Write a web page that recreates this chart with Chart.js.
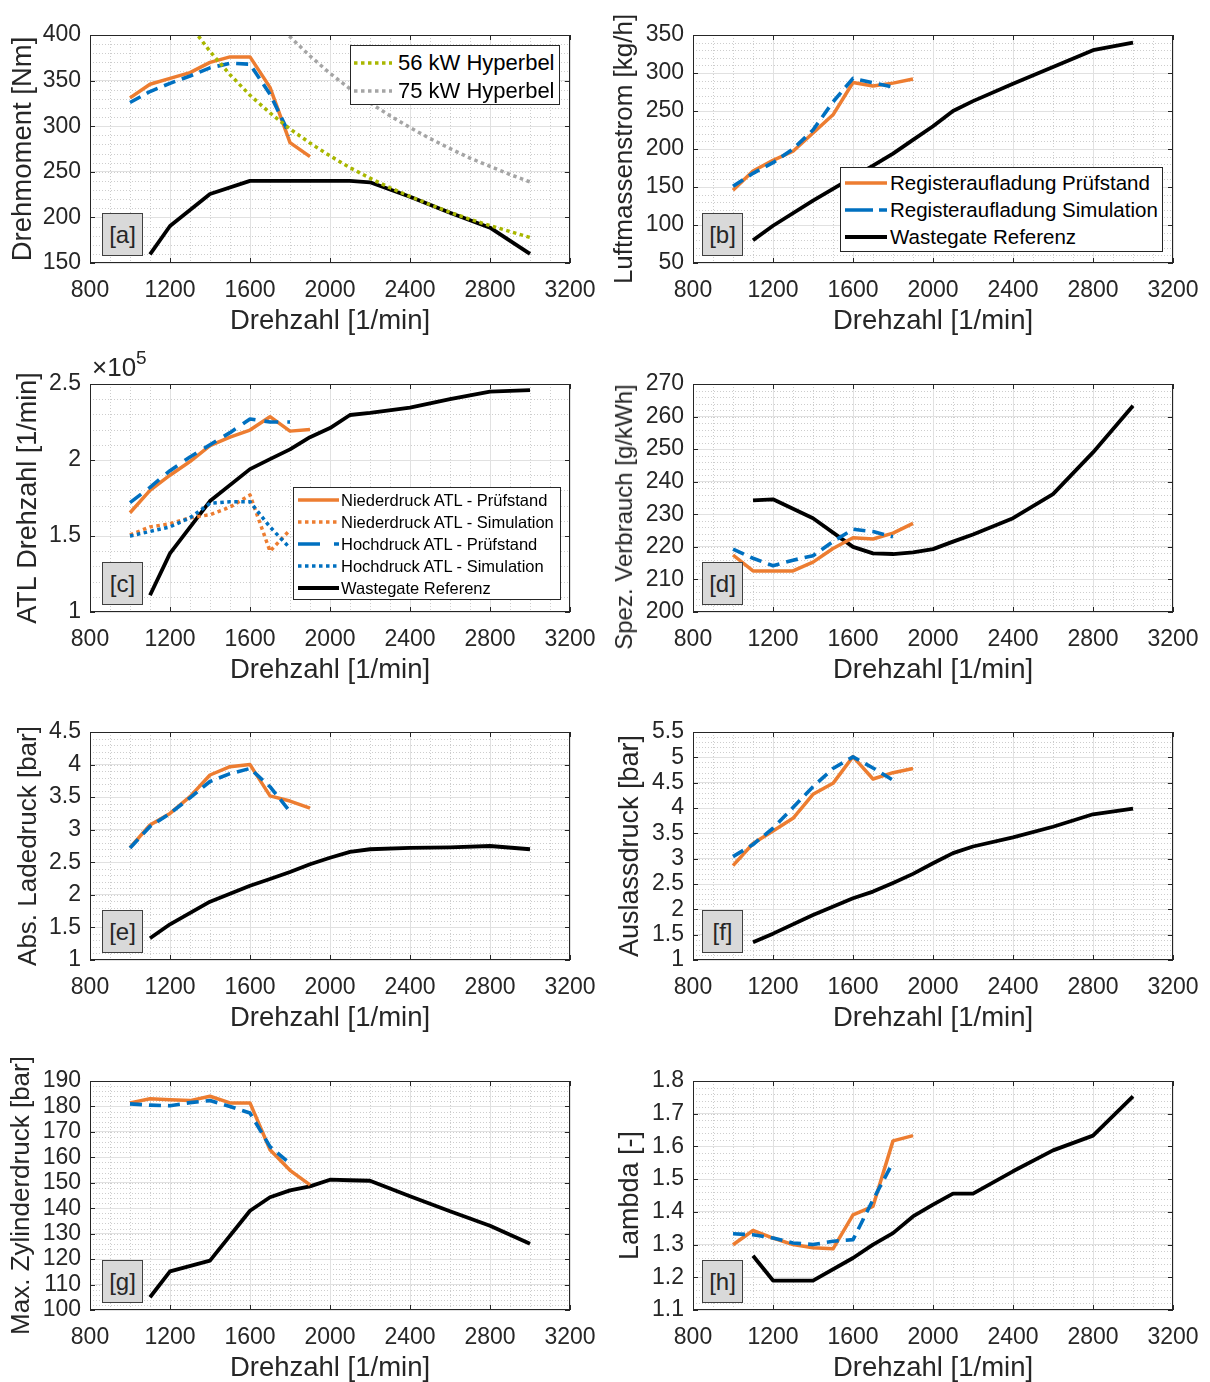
<!DOCTYPE html>
<html lang="de">
<head>
<meta charset="utf-8">
<title>Registeraufladung vs. Wastegate</title>
<script src="https://cdn.jsdelivr.net/npm/chart.js@4.4.1/dist/chart.umd.min.js"></script>
<style>
  html, body { margin: 0; padding: 0; background: #fff; width: 1210px; height: 1382px; overflow: hidden; font-family: "Liberation Sans", Arial, sans-serif; }
  canvas { position: absolute; }
  .legend { position: absolute; background: #fff; border: 1px solid #262626; box-sizing: border-box; color: #000; }
  .legend .row { position: absolute; white-space: nowrap; height: 30px; line-height: 30px; }
  .legend svg { position: absolute; }
  .tag { position: absolute; width: 41px; height: 43px; background: #d9d9d9; border: 1px solid #404040; box-sizing: border-box; font-size: 24px; text-align: center; line-height: 41px; color: #262626; }
  .expo { position: absolute; left: 92px; top: 349px; font-size: 26px; color: #262626; }
  .expo sup { font-size: 19px; position: relative; top: -2px; }
  .ytitle { position: absolute; white-space: nowrap; color: #262626; transform: translate(-50%, -50%) rotate(-90deg); line-height: 1; }
</style>
</head>
<body>
<script>
// Drehzahlen [1/min]
const drehzahlPruef = [1000, 1100, 1200, 1300, 1400, 1500, 1600, 1700, 1800, 1900];
const drehzahlSim = [1000, 1100, 1200, 1300, 1400, 1500, 1600, 1700, 1800];
const drehzahlRef = [1100, 1200, 1400, 1600, 1700, 1800, 1900, 2000, 2100, 2200, 2400, 2600, 2800, 3000];
const drehzahlHyp56 = [1300, 1400, 1500, 1600, 1700, 1800, 1900, 2000, 2100, 2200, 2300, 2400, 2500, 2600, 2700, 2800, 2900, 3000];
const drehzahlHyp75 = [1700, 1800, 1900, 2000, 2100, 2200, 2300, 2400, 2500, 2600, 2700, 2800, 2900, 3000];
const xTicks = [800, 1200, 1600, 2000, 2400, 2800, 3200];

// [a] Drehmoment [Nm]
const momentPruef = [331, 346, 352.5, 358.7, 370, 376, 376, 342.6, 282, 266.6];
const momentSim = [326, 338, 347, 355, 364, 369, 368, 335, 290];
const momentRef = [159.5, 190.6, 225.7, 240, 240, 240, 240, 240, 240, 238.5, 222.7, 205, 188.7, 160];
const hyperbel56 = [411, 382, 356.5, 334, 314.5, 297, 281.5, 267.5, 254.5, 243, 232.5, 223, 214, 205.5, 198, 191, 184.5, 178];
const hyperbel75 = [421, 398, 377, 358, 341, 325.5, 311.5, 298.5, 286.5, 275.5, 265, 256, 247, 239];

// [b] Luftmassenstrom [kg/h]
const luftPruef = [145.6, 171, 185, 197, 221, 245, 287.5, 283, 286.7, 292];
const luftSim = [151, 168, 182, 200, 225, 262, 293, 287, 281.5];
const luftRef = [80, 99, 132, 163, 178, 194, 212, 230, 250, 263, 286, 308, 330, 340];

// [c] ATL Drehzahl [1/min]
const ndPruef = [165300, 180000, 190000, 199000, 209400, 215000, 219700, 228500, 219000, 220000];
const ndSim = [150700, 156000, 158000, 162000, 164000, 169000, 177000, 140000, 154000];
const hdPruef = [172000, 182000, 193000, 202000, 210000, 218000, 227000, 225000, 225000];
const hdSim = [150000, 153000, 156000, 162000, 171500, 172500, 172500, 156000, 142000];
const atlRef = [111000, 138600, 173000, 194000, 200600, 207000, 215000, 221000, 229600, 231000, 234400, 240000, 245000, 246000];

// [d] Spez. Verbrauch [g/kWh]
const bsfcPruef = [217.5, 212.6, 212.6, 212.6, 215.3, 219.5, 222.8, 222.4, 224.2, 227.2];
const bsfcSim = [219.3, 216.5, 214.2, 215.9, 217.3, 221.6, 225.4, 224.7, 223.1];
const bsfcRef = [234.3, 234.6, 228.8, 220.0, 218.0, 217.8, 218.3, 219.3, 221.6, 223.8, 228.8, 236.2, 249, 263.3];

// [e] Abs. Ladedruck [bar]
const ladePruef = [2.724, 3.072, 3.25, 3.507, 3.84, 3.967, 4.0, 3.52, 3.44, 3.33];
const ladeSim = [2.72, 3.05, 3.25, 3.49, 3.74, 3.86, 3.94, 3.66, 3.28];
const ladeRef = [1.333, 1.548, 1.895, 2.14, 2.243, 2.35, 2.47, 2.57, 2.66, 2.70, 2.72, 2.73, 2.75, 2.70];

// [f] Auslassdruck [bar]
const auslPruef = [2.862, 3.30, 3.546, 3.797, 4.27, 4.487, 5.013, 4.573, 4.697, 4.78];
const auslSim = [3.04, 3.28, 3.60, 4.01, 4.42, 4.78, 5.01, 4.79, 4.55];
const auslRef = [1.35, 1.52, 1.89, 2.22, 2.35, 2.52, 2.70, 2.91, 3.11, 3.24, 3.42, 3.63, 3.876, 3.99];

// [g] Max. Zylinderdruck [bar]
const zylPruef = [181.4, 183.0, 182.6, 182.3, 184.0, 181.4, 181.4, 163.0, 154.9, 149.2];
const zylSim = [181, 180.5, 180.3, 181.5, 182.3, 180, 177.4, 164.2, 157.6];
const zylRef = [105, 115.2, 119.4, 139.0, 144.3, 147.0, 148.6, 151.2, 151.0, 150.8, 144.7, 138.8, 133.1, 126];

// [h] Lambda [-]
const lambdaPruef = [1.2995, 1.343, 1.32, 1.30, 1.29, 1.287, 1.391, 1.417, 1.617, 1.633];
const lambdaSim = [1.333, 1.33, 1.32, 1.305, 1.30, 1.31, 1.315, 1.437, 1.551];
const lambdaRef = [1.266, 1.19, 1.19, 1.259, 1.30, 1.335, 1.386, 1.422, 1.456, 1.456, 1.524, 1.588, 1.633, 1.753];

// Farben
const ORANGE = '#ED7D31';
const BLUE = '#0070C0';
const BLACK = '#000000';
const LIME = '#A9B700';
const GRAY = '#A5A5A5';
const TEXT = '#262626';
const FONT = '"Liberation Sans", Arial, sans-serif';
const XTITLE_SIZE = 27.5;

function pts(xs, ys) {
    return ys.map((v, i) => ({x: xs[i], y: v}));
}

function line(label, xs, ys, color, width, dash, order) {
    return {
        label: label,
        data: pts(xs, ys),
        borderColor: color,
        backgroundColor: color,
        borderWidth: width,
        borderDash: dash || [],
        borderCapStyle: 'butt',
        borderJoinStyle: 'round',
        pointRadius: 0,
        tension: 0,
        fill: false,
        order: order
    };
}

// Standard-Satz: Prüfstand (orange), Simulation (blau gestrichelt), Referenz (schwarz)
function standardSets(pruef, sim, ref) {
    return [
        line('Registeraufladung Simulation', drehzahlSim, sim, BLUE, 3.6, [12, 7], 1),
        line('Registeraufladung Prüfstand', drehzahlPruef, pruef, ORANGE, 3.5, null, 2),
        line('Wastegate Referenz', drehzahlRef, ref, BLACK, 3.8, null, 3)
    ];
}

// Gitter im MATLAB-Stil: gepunktetes Nebengitter, Rahmen, Ticks nach innen
const matlabAxes = {
    id: 'matlabAxes',
    beforeDraw(chart, args, opts) {
        const {ctx, chartArea: a, scales: {x, y}} = chart;
        ctx.save();
        ctx.strokeStyle = '#cdcdcd';
        ctx.lineWidth = 1;
        ctx.setLineDash([1, 2]);
        ctx.beginPath();
        for (let v = x.min; v <= x.max + 1e-9; v += opts.xMinor) {
            const px = Math.round(x.getPixelForValue(v)) + 0.5;
            ctx.moveTo(px, a.top);
            ctx.lineTo(px, a.bottom);
        }
        const n = Math.round((y.max - y.min) / opts.yMinor);
        for (let i = 0; i <= n; i++) {
            const py = Math.round(y.getPixelForValue(y.min + i * opts.yMinor)) + 0.5;
            ctx.moveTo(a.left, py);
            ctx.lineTo(a.right, py);
        }
        ctx.stroke();
        ctx.restore();
    },
    afterDraw(chart) {
        const {ctx, chartArea: a, scales: {x, y}} = chart;
        ctx.save();
        ctx.strokeStyle = TEXT;
        ctx.lineWidth = 1;
        ctx.setLineDash([]);
        ctx.strokeRect(a.left + 0.5, a.top + 0.5, a.right - a.left - 1, a.bottom - a.top - 1);
        const tl = 5;
        ctx.beginPath();
        x.ticks.forEach(t => {
            const px = Math.round(x.getPixelForValue(t.value)) + 0.5;
            ctx.moveTo(px, a.bottom); ctx.lineTo(px, a.bottom - tl);
            ctx.moveTo(px, a.top); ctx.lineTo(px, a.top + tl);
        });
        y.ticks.forEach(t => {
            const py = Math.round(y.getPixelForValue(t.value)) + 0.5;
            ctx.moveTo(a.left, py); ctx.lineTo(a.left + tl, py);
            ctx.moveTo(a.right, py); ctx.lineTo(a.right - tl, py);
        });
        ctx.stroke();
        ctx.restore();
    }
};

const colCfg = [
    {left: 0, width: 600, padRight: 30, tagLeft: 102},
    {left: 603, width: 607, padRight: 37, tagLeft: 702}
];
const plotTops = [35, 384, 732, 1081];
const plotBottoms = [263, 612, 960, 1310];
const PAD_TOP = 30;
const X_AXIS_H = 72;
const Y_AXIS_W = 90;

const fmt = v => String(+v.toFixed(2));

const panels = [
    {tag: 'a', col: 0, row: 0, yMin: 150, yMax: 400, yStep: 50, yMinor: 10,
     yTitle: 'Drehmoment [Nm]', titleCenter: 23, titleSize: 27.5,
     datasets: [
         line('56 kW Hyperbel', drehzahlHyp56, hyperbel56, LIME, 3.5, [3.5, 3.5], 0),
         line('75 kW Hyperbel', drehzahlHyp75, hyperbel75, GRAY, 3.5, [3.5, 3.5], 0)
     ].concat(standardSets(momentPruef, momentSim, momentRef))},
    {tag: 'b', col: 1, row: 0, yMin: 50, yMax: 350, yStep: 50, yMinor: 10,
     yTitle: 'Luftmassenstrom [kg/h]', titleCenter: 22, titleSize: 26,
     datasets: standardSets(luftPruef, luftSim, luftRef)},
    {tag: 'c', col: 0, row: 1, yMin: 100000, yMax: 250000, yStep: 50000, yMinor: 10000,
     yTitle: 'ATL Drehzahl [1/min]', titleCenter: 29, titleSize: 27, yFormat: v => fmt(v / 1e5),
     datasets: [
         line('Niederdruck ATL - Simulation', drehzahlSim, ndSim, ORANGE, 3.5, [3.5, 3.5], 2),
         line('Hochdruck ATL - Simulation', drehzahlSim, hdSim, BLUE, 3.5, [3.5, 3.5], 1),
         line('Hochdruck ATL - Prüfstand', drehzahlSim, hdPruef, BLUE, 3.6, [14, 9], 3),
         line('Niederdruck ATL - Prüfstand', drehzahlPruef, ndPruef, ORANGE, 3.5, null, 4),
         line('Wastegate Referenz', drehzahlRef, atlRef, BLACK, 3.8, null, 5)
     ]},
    {tag: 'd', col: 1, row: 1, yMin: 200, yMax: 270, yStep: 10, yMinor: 2,
     yTitle: 'Spez. Verbrauch [g/kWh]', htmlTitle: {x: 624, y: 517, size: 24},
     datasets: standardSets(bsfcPruef, bsfcSim, bsfcRef)},
    {tag: 'e', col: 0, row: 2, yMin: 1, yMax: 4.5, yStep: 0.5, yMinor: 0.1,
     yTitle: 'Abs. Ladedruck [bar]', titleCenter: 29, titleSize: 26,
     datasets: standardSets(ladePruef, ladeSim, ladeRef)},
    {tag: 'f', col: 1, row: 2, yMin: 1, yMax: 5.5, yStep: 0.5, yMinor: 0.1,
     yTitle: 'Auslassdruck [bar]', titleCenter: 28, titleSize: 27,
     datasets: standardSets(auslPruef, auslSim, auslRef)},
    {tag: 'g', col: 0, row: 3, yMin: 100, yMax: 190, yStep: 10, yMinor: 2,
     yTitle: 'Max. Zylinderdruck [bar]', titleCenter: 22, titleSize: 26,
     datasets: standardSets(zylPruef, zylSim, zylRef)},
    {tag: 'h', col: 1, row: 3, yMin: 1.1, yMax: 1.8, yStep: 0.1, yMinor: 0.02,
     yTitle: 'Lambda [-]', titleCenter: 28, titleSize: 27,
     datasets: standardSets(lambdaPruef, lambdaSim, lambdaRef)}
];

function buildPanel(p) {
    const c = colCfg[p.col];
    const top = plotTops[p.row] - PAD_TOP;
    const height = plotBottoms[p.row] - plotTops[p.row] + PAD_TOP + X_AXIS_H;
    const canvas = document.createElement('canvas');
    canvas.width = c.width;
    canvas.height = height;
    canvas.style.left = c.left + 'px';
    canvas.style.top = top + 'px';
    canvas.style.width = c.width + 'px';
    canvas.style.height = height + 'px';
    document.body.appendChild(canvas);

    const yTitle = p.htmlTitle ? {display: false} : {
        display: true, text: p.yTitle, color: TEXT,
        font: {family: FONT, size: p.titleSize, lineHeight: 1},
        padding: {top: p.titleCenter - p.titleSize / 2, bottom: 0}
    };

    new Chart(canvas.getContext('2d'), {
        type: 'line',
        data: {datasets: p.datasets},
        plugins: [matlabAxes],
        options: {
            responsive: false,
            animation: false,
            devicePixelRatio: 1,
            layout: {padding: {top: PAD_TOP, right: c.padRight, left: 0, bottom: 0}},
            plugins: {
                legend: {display: false},
                tooltip: {enabled: false},
                matlabAxes: {xMinor: 100, yMinor: p.yMinor}
            },
            scales: {
                x: {
                    type: 'linear',
                    min: 800,
                    max: 3200,
                    afterBuildTicks: s => { s.ticks = xTicks.map(v => ({value: v})); },
                    // feste Achsenhöhe, keine Randpolster durch Beschriftung
                    afterFit: s => { s.height = X_AXIS_H; s.paddingLeft = 0; s.paddingRight = 0; },
                    grid: {color: '#e1e1e1', drawTicks: false},
                    border: {display: false},
                    ticks: {padding: 14, color: TEXT, font: {family: FONT, size: 23}, maxRotation: 0, autoSkip: false, callback: v => String(v)},
                    title: {display: true, text: 'Drehzahl [1/min]', color: TEXT, font: {family: FONT, size: XTITLE_SIZE, lineHeight: 1}, padding: {top: 0, bottom: 0}}
                },
                y: {
                    type: 'linear',
                    min: p.yMin,
                    max: p.yMax,
                    ticks: {stepSize: p.yStep, padding: 9, color: TEXT, font: {family: FONT, size: 23}, autoSkip: false, callback: p.yFormat || fmt},
                    afterFit: s => { s.width = Y_AXIS_W; s.paddingTop = 0; s.paddingBottom = 0; },
                    grid: {color: '#e1e1e1', drawTicks: false},
                    border: {display: false},
                    title: yTitle
                }
            }
        }
    });

    if (p.htmlTitle) {
        const t = document.createElement('div');
        t.className = 'ytitle';
        t.style.left = p.htmlTitle.x + 'px';
        t.style.top = p.htmlTitle.y + 'px';
        t.style.fontSize = p.htmlTitle.size + 'px';
        t.textContent = p.yTitle;
        document.body.appendChild(t);
    }

    const tag = document.createElement('div');
    tag.className = 'tag';
    tag.style.left = c.tagLeft + 'px';
    tag.style.top = (plotBottoms[p.row] - 50) + 'px';
    tag.textContent = '[' + p.tag + ']';
    document.body.appendChild(tag);
}

panels.forEach(buildPanel);

// Legenden als HTML über den Diagrammen
function legend(box, entries) {
    const el = document.createElement('div');
    el.className = 'legend';
    el.style.left = box.left + 'px';
    el.style.top = box.top + 'px';
    el.style.width = box.width + 'px';
    el.style.height = box.height + 'px';
    el.style.fontSize = box.font + 'px';
    entries.forEach((e, i) => {
        const cy = box.rows[i];
        const w = box.sx1 - box.sx0;
        el.insertAdjacentHTML('beforeend',
            '<svg width="' + w + '" height="10" style="left:' + box.sx0 + 'px;top:' + (cy - 5) + 'px">' +
            '<line x1="0" y1="5" x2="' + w + '" y2="5" stroke="' + e.color + '" stroke-width="' + e.width + '"' +
            (e.dash ? ' stroke-dasharray="' + e.dash + '"' : '') + '/></svg>');
        const row = document.createElement('div');
        row.className = 'row';
        row.style.left = box.textX + 'px';
        row.style.top = (cy - 15) + 'px';
        row.textContent = e.label;
        el.appendChild(row);
    });
    document.body.appendChild(el);
}

legend({left: 350, top: 45, width: 210, height: 60, font: 22, rows: [17, 45], sx0: 3, sx1: 41, textX: 47}, [
    {label: '56 kW Hyperbel', color: LIME, width: 3.5, dash: '3.5,3.5'},
    {label: '75 kW Hyperbel', color: GRAY, width: 3.5, dash: '3.5,3.5'}
]);

legend({left: 840, top: 167, width: 323, height: 85, font: 20.5, rows: [15, 42, 69], sx0: 4, sx1: 46, textX: 49}, [
    {label: 'Registeraufladung Prüfstand', color: ORANGE, width: 3.5},
    {label: 'Registeraufladung Simulation', color: BLUE, width: 3.5, dash: '28,6'},
    {label: 'Wastegate Referenz', color: BLACK, width: 3.8}
]);

legend({left: 293, top: 487, width: 268, height: 113, font: 16.5, rows: [12, 34, 56, 78, 100], sx0: 4, sx1: 45, textX: 47}, [
    {label: 'Niederdruck ATL - Prüfstand', color: ORANGE, width: 3.5},
    {label: 'Niederdruck ATL - Simulation', color: ORANGE, width: 3.5, dash: '3.5,3.5'},
    {label: 'Hochdruck ATL - Prüfstand', color: BLUE, width: 3.5, dash: '22,14'},
    {label: 'Hochdruck ATL - Simulation', color: BLUE, width: 3.5, dash: '3.5,3.5'},
    {label: 'Wastegate Referenz', color: BLACK, width: 3.8}
]);

// Exponent der ATL-Drehzahl-Achse
document.body.insertAdjacentHTML('beforeend', '<div class="expo">&times;10<sup>5</sup></div>');
</script>
</body>
</html>
